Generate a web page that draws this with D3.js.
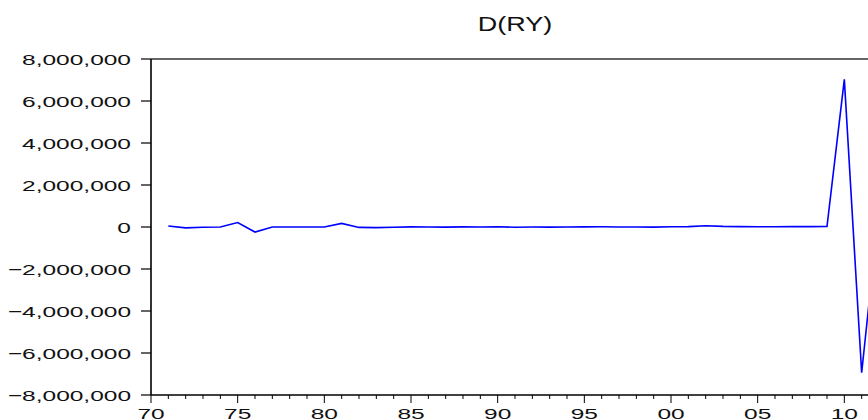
<!DOCTYPE html>
<html>
<head>
<meta charset="utf-8">
<script src="https://cdn.jsdelivr.net/npm/d3@7"></script>
<style>
  body { margin: 0; background: #fff; }
  text { font-family: Arial, "Liberation Sans", sans-serif; fill: #111; }
</style>
</head>
<body>
<script>
// series D(RY), annual
const years = d3.range(1971, 2013)
const values = [
  50000, -40000, -10000, 0, 210000, -240000, 0, 0, 0, 0,
  170000, -20000, -30000, -10000, 5000, 0, -5000, 5000, 0, 10000,
  -10000, 0, -5000, 0, 5000, 10000, 0, 0, -5000, 10000,
  20000, 60000, 30000, 20000, 10000, 15000, 20000, 20000, 25000, 7030000,
  -6940000, 900000
]
const yTicks = [-8000000, -6000000, -4000000, -2000000, 0, 2000000, 4000000, 6000000, 8000000]
const xMajor = d3.range(1970, 2015, 5)
const title = 'D(RY)'

const W = 868, H = 420
const mLeft = 151, mRight = 879, mTop = 59, mBottom = 395
const sx = 1.58 // stretched glyphs like the eviews export

const svg = d3.select('body').append('svg')
    .attr('width', W)
    .attr('height', H)

const x = d3.scaleLinear().domain([1970, 2012]).range([mLeft, mRight])
const y = d3.scaleLinear().domain([-8000000, 8000000]).range([mBottom, mTop])

// frame top + right
svg.append('path')
    .attr('d', `M${mLeft},${mTop}H${mRight}V${mBottom}`)
    .attr('fill', 'none')
    .attr('stroke', '#333')
    .attr('stroke-width', 1.5)

// y axis
const yAxis = svg.append('g').attr('transform', `translate(${mLeft},0)`)
yAxis.append('line')
    .attr('y1', mTop).attr('y2', mBottom)
    .attr('stroke', '#000').attr('stroke-width', 1.6)
yAxis.selectAll('line.tick').data(yTicks).enter().append('line')
    .attr('class', 'tick')
    .attr('x1', -10).attr('x2', 0)
    .attr('y1', d => y(d)).attr('y2', d => y(d))
    .attr('stroke', '#000').attr('stroke-width', 1.2)
yAxis.selectAll('text').data(yTicks).enter().append('text')
    .attr('transform', d => `translate(-20,${y(d) + 5.5}) scale(${sx},1)`)
    .attr('text-anchor', 'end')
    .attr('font-size', 15.5)
    .text(d => d3.format(',')(d))

// x axis
const xAxis = svg.append('g').attr('transform', `translate(0,${mBottom})`)
xAxis.append('line')
    .attr('x1', mLeft).attr('x2', mRight)
    .attr('stroke', '#000').attr('stroke-width', 1.6)
xAxis.selectAll('line.tick').data(d3.range(1970, 2013)).enter().append('line')
    .attr('class', 'tick')
    .attr('x1', d => x(d)).attr('x2', d => x(d))
    .attr('y1', 0).attr('y2', d => d % 5 === 0 ? 8 : 4)
    .attr('stroke', '#000').attr('stroke-width', 1)
xAxis.selectAll('text').data(xMajor).enter().append('text')
    .attr('transform', d => `translate(${x(d)},23.5) scale(${sx},1)`)
    .attr('text-anchor', 'middle')
    .attr('font-size', 15.5)
    .text(d => String(d % 100).padStart(2, '0'))

// series line
const line = d3.line()
    .x((d, i) => x(years[i]))
    .y(d => y(d))
svg.append('path')
    .datum(values)
    .attr('d', line)
    .attr('fill', 'none')
    .attr('stroke', '#0000ff')
    .attr('stroke-width', 1.6)

// title
svg.append('text')
    .attr('transform', `translate(${(mLeft + mRight) / 2},${31}) scale(1.35,1)`)
    .attr('text-anchor', 'middle')
    .attr('font-size', 20)
    .text(title)
</script>
</body>
</html>
